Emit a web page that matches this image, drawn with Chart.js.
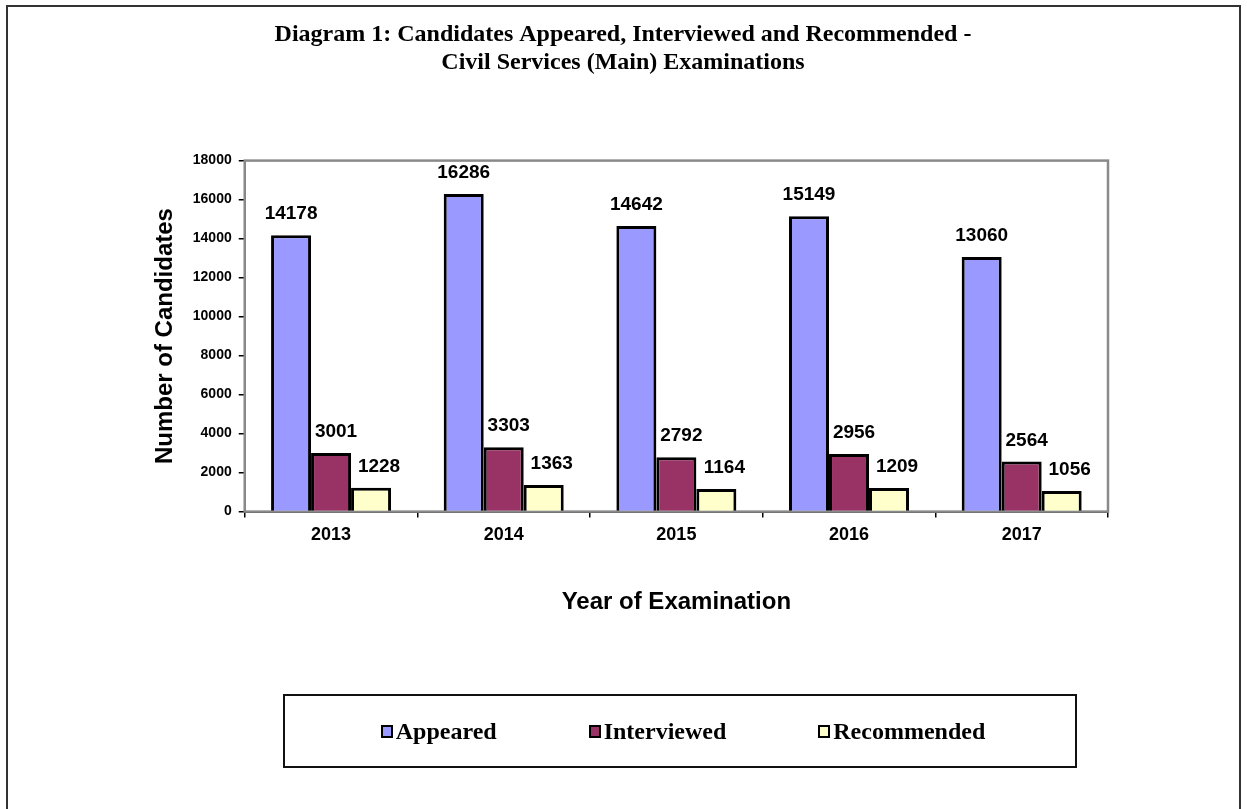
<!DOCTYPE html>
<html>
<head>
<meta charset="utf-8">
<script src="https://cdn.jsdelivr.net/npm/chart.js@4"></script>
<style>
    html, body { margin: 0; padding: 0; background: #fff; }
    #frame {
        position: absolute; left: 6px; top: 5px; width: 1235px; height: 830px;
        border: 2px solid #333; box-sizing: border-box;
    }
    #wrap { position: absolute; left: 0; top: 0; width: 1247px; height: 809px; }
    #legendBox {
        position: absolute; left: 283px; top: 694px; width: 794px; height: 74px;
        border: 2px solid #111; box-sizing: border-box;
        display: flex; justify-content: center; align-items: center; gap: 92px;
        padding-left: 6px;
        font: bold 24px 'Liberation Serif', 'Times New Roman', serif; color: #000;
    }
    .legend-item { display: flex; align-items: center; }
    .legend-swatch {
        width: 12px; height: 13px; border: 2.5px solid #000; box-sizing: border-box;
        margin-right: 3px;
    }
</style>
</head>
<body>
<div id="frame"></div>
<div id="wrap"><canvas id="chart" width="1247" height="809"></canvas></div>
<div id="legendBox"></div>
<script>
const years = ['2013', '2014', '2015', '2016', '2017'];
const seriesNames = ['Appeared', 'Interviewed', 'Recommended'];
const appeared = [14178, 16286, 14642, 15149, 13060];
const interviewed = [3001, 3303, 2792, 2956, 2564];
const recommended = [1228, 1363, 1164, 1209, 1056];
const seriesColors = ['#9999FF', '#993366', '#FFFFCC'];
const labelShift = [0, 5, 8];

const sans = "'Liberation Sans', Arial, sans-serif";
const serif = "'Liberation Serif', 'Times New Roman', serif";

// value labels above every bar
const barValues = {
    id: 'barValues',
    afterDatasetsDraw(chart) {
        const ctx = chart.ctx;
        ctx.save();
        ctx.font = 'bold 19px ' + sans;
        ctx.fillStyle = '#000';
        ctx.textAlign = 'center';
        ctx.textBaseline = 'alphabetic';
        chart.data.datasets.forEach((ds, i) => {
            chart.getDatasetMeta(i).data.forEach((bar, j) => {
                ctx.fillText(ds.data[j], bar.x + labelShift[i], bar.y - 16);
            });
        });
        ctx.restore();
    }
};

// grey frame around the plot area
const plotFrame = {
    id: 'plotFrame',
    beforeDatasetsDraw(chart) {
        const a = chart.chartArea;
        const ctx = chart.ctx;
        ctx.save();
        ctx.strokeStyle = '#8a8a8a';
        ctx.lineWidth = 2.5;
        ctx.strokeRect(a.left, a.top, a.right - a.left, a.bottom - a.top);
        ctx.restore();
    }
};

const allValues = [appeared, interviewed, recommended];

new Chart(document.getElementById('chart'), {
    type: 'bar',
    data: {
        labels: years,
        datasets: seriesNames.map((name, i) => ({
            label: name,
            data: allValues[i],
            backgroundColor: seriesColors[i],
            borderColor: '#000',
            borderWidth: 3,
            barPercentage: 1,
            categoryPercentage: 0.695
        }))
    },
    options: {
        responsive: false,
        animation: false,
        layout: { padding: { left: 138, right: 139, top: 0, bottom: 192 } },
        plugins: {
            legend: { display: false },
            tooltip: { enabled: false },
            title: {
                display: true,
                text: ['Diagram 1: Candidates Appeared, Interviewed and Recommended -', 'Civil Services (Main) Examinations'],
                color: '#000',
                font: { family: serif, size: 24, weight: 'bold', lineHeight: 1.2 },
                padding: { top: 20, bottom: 83 }
            }
        },
        scales: {
            x: {
                grid: { offset: true, drawOnChartArea: false, drawTicks: true, tickLength: 6, color: '#000', lineWidth: 1.5 },
                border: { color: '#000', width: 2 },
                ticks: { color: '#000', padding: 7, font: { family: sans, size: 18, weight: 'bold' } },
                title: {
                    display: true,
                    text: 'Year of Examination',
                    color: '#000',
                    font: { family: sans, size: 24, weight: 'bold', lineHeight: 1.2 },
                    padding: { top: 35, bottom: 0 }
                }
            },
            y: {
                min: 0,
                max: 18000,
                grid: { drawOnChartArea: false, drawTicks: true, tickLength: 6, color: '#000', lineWidth: 1.5 },
                border: { color: '#000', width: 2 },
                ticks: {
                    stepSize: 2000, color: '#000', padding: 7,
                    font: { family: sans, size: 14, weight: 'bold' },
                    callback: value => String(value)
                },
                title: {
                    display: true,
                    text: 'Number of Candidates',
                    color: '#000',
                    font: { family: sans, size: 24, weight: 'bold', lineHeight: 1.2 },
                    padding: { top: 13, bottom: 6 }
                }
            }
        }
    },
    plugins: [plotFrame, barValues]
});

const legendBox = document.getElementById('legendBox');
legendBox.innerHTML = seriesNames.map((name, i) => `
    <div class="legend-item">
        <span class="legend-swatch" style="background: ${seriesColors[i]}"></span>
        <span>${name}</span>
    </div>
`).join('');
</script>
</body>
</html>
